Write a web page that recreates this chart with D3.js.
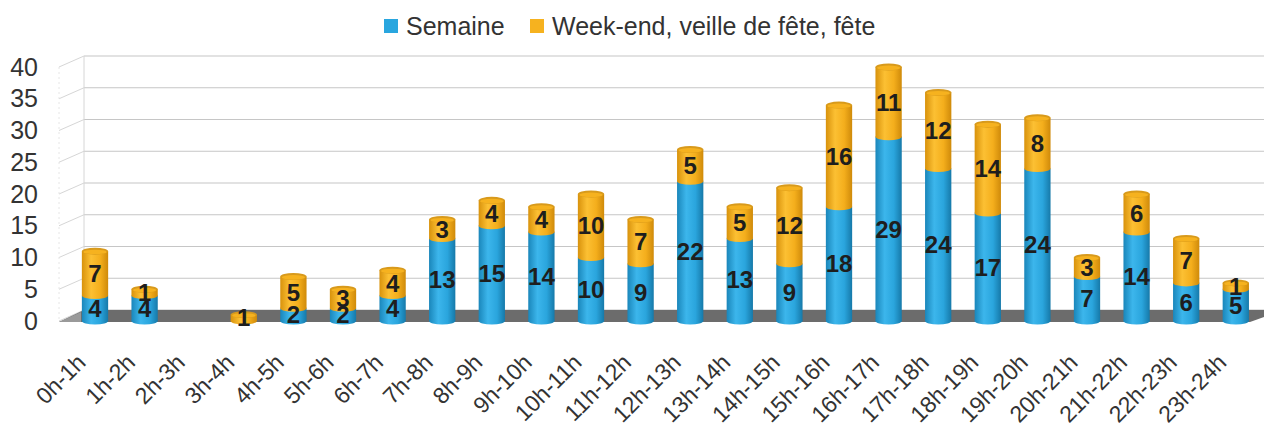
<!DOCTYPE html>
<html>
<head>
<meta charset="utf-8">
<script src="https://cdn.jsdelivr.net/npm/d3@7"></script>
<style>
  body { margin: 0; background: #fff; }
  svg { display: block; font-family: "Liberation Sans", Arial, sans-serif; }
</style>
</head>
<body>
<svg id="chart" width="1264" height="428"></svg>
<script>
// data
var categories = ["0h-1h","1h-2h","2h-3h","3h-4h","4h-5h","5h-6h","6h-7h","7h-8h","8h-9h","9h-10h",
  "10h-11h","11h-12h","12h-13h","13h-14h","14h-15h","15h-16h","16h-17h","17h-18h","18h-19h","19h-20h",
  "20h-21h","21h-22h","22h-23h","23h-24h"];
var semaine = [4,4,0,0,2,2,4,13,15,14,10,9,22,13,9,18,29,24,17,24,7,14,6,5];
var weekend = [7,1,0,1,5,3,4,3,4,4,10,7,5,5,12,16,11,12,14,8,3,6,7,1];
var seriesNames = ["Semaine", "Week-end, veille de fête, fête"];
var yTicks = [0,5,10,15,20,25,30,35,40];

var colors = ["#29a6df", "#f6b21f"];
var shades = [
  ["#1a86ba", "#3cb6ec", "#2aa5dd", "#1679a9"],
  ["#d8920c", "#fcc033", "#f4ae1c", "#cf8a0a"]
];
var capColors = ["#1f93c9", "#d89a1c"];

var svg = d3.select("#chart");
var depthX = 25, depthY = -11;

var y = d3.scaleLinear().domain([0, 40]).range([321, 67]);
var x = d3.scaleBand().domain(categories).range([70.2, 1260.6])
  .paddingInner(0.47).paddingOuter(0.235);

var rows = categories.map(function(c, i) {
  return {cat: c, s0: semaine[i], s1: weekend[i]};
});
var stacked = d3.stack().keys(["s0", "s1"])(rows);

// gradients for the cylinders
var defs = svg.append("defs");
shades.forEach(function(sh, k) {
  var g = defs.append("linearGradient").attr("id", "grad" + k)
    .attr("x1", "0%").attr("x2", "100%").attr("y1", "0%").attr("y2", "0%");
  [0, 0.35, 0.7, 1].forEach(function(o, j) {
    g.append("stop").attr("offset", o).attr("stop-color", sh[j]);
  });
});

// back wall gridlines
var wallLeft = 59 + depthX;
svg.append("g").selectAll("line").data(yTicks).enter().append("line")
  .attr("x1", wallLeft).attr("x2", 1264)
  .attr("y1", function(d){ return y(d) + depthY; })
  .attr("y2", function(d){ return y(d) + depthY; })
  .attr("stroke", "#c6c6c6").attr("stroke-width", 1.2);

// left wall
svg.append("g").selectAll("line").data(yTicks).enter().append("line")
  .attr("x1", 59).attr("x2", wallLeft)
  .attr("y1", function(d){ return y(d); })
  .attr("y2", function(d){ return y(d) + depthY; })
  .attr("stroke", "#d6d6d6").attr("stroke-width", 1);
svg.append("line").attr("x1", wallLeft).attr("x2", wallLeft)
  .attr("y1", y(40) + depthY).attr("y2", y(0) + depthY)
  .attr("stroke", "#d6d6d6");
svg.append("line").attr("x1", 59).attr("x2", 59)
  .attr("y1", y(40)).attr("y2", y(0))
  .attr("stroke", "#e6e6e6").attr("stroke-dasharray", "2,3");

// floor
var y0 = y(0);
svg.append("path")
  .attr("d", "M59," + (y0 + 1) + "L" + wallLeft + "," + (y0 + depthY) +
    "L1264," + (y0 + depthY) + "L1264," + (y0 - 4) + "L1250," + (y0 + 1) + "Z")
  .attr("fill", "#6c6c6c");
svg.append("path")
  .attr("d", "M59," + (y0 + 1) + "L" + (wallLeft - 3) + "," + (y0 + depthY + 2) +
    "L" + (wallLeft - 3) + "," + (y0 + 1) + "Z")
  .attr("fill", "#9a9a9a");

// y axis labels
var yAxis = d3.axisLeft(y).tickValues(yTicks).tickSize(0).tickPadding(8);
var ya = svg.append("g").attr("transform", "translate(46,0)").call(yAxis);
ya.select(".domain").remove();
ya.selectAll("text").attr("font-size", 25).attr("fill", "#333")
  .attr("font-family", "Liberation Sans, Arial, sans-serif");

// cylinders
var bw = x.bandwidth();
var ry = 3.5;
var bars = svg.append("g");
stacked.forEach(function(layer, k) {
  var g = bars.append("g");
  layer.forEach(function(d, i) {
    if (d[1] - d[0] <= 0) return;
    var cx = x(categories[i]) + bw / 2;
    g.append("rect")
      .attr("x", x(categories[i])).attr("width", bw)
      .attr("y", y(d[1])).attr("height", y(d[0]) - y(d[1]))
      .attr("fill", "url(#grad" + k + ")");
    g.append("ellipse")
      .attr("cx", cx).attr("cy", y(d[0])).attr("rx", bw / 2).attr("ry", ry)
      .attr("fill", "url(#grad" + k + ")");
  });
});
// top caps
rows.forEach(function(r, i) {
  var total = r.s0 + r.s1;
  if (total <= 0) return;
  var k = r.s1 > 0 ? 1 : 0;
  var cx = x(r.cat) + bw / 2;
  bars.append("ellipse")
    .attr("cx", cx).attr("cy", y(total)).attr("rx", bw / 2).attr("ry", ry)
    .attr("fill", capColors[k]);
  bars.append("ellipse")
    .attr("cx", cx).attr("cy", y(total) + 0.8).attr("rx", bw / 2 - 1.5).attr("ry", ry - 1.2)
    .attr("fill", colors[k]);
});

// value labels
var labels = svg.append("g").attr("font-size", 24).attr("font-weight", "bold")
  .attr("fill", "#1e1e1e").attr("text-anchor", "middle");
stacked.forEach(function(layer, k) {
  layer.forEach(function(d, i) {
    var v = d[1] - d[0];
    if (v <= 0) return;
    labels.append("text")
      .attr("x", x(categories[i]) + bw / 2)
      .attr("y", (y(d[0]) + y(d[1])) / 2)
      .attr("dy", "0.36em")
      .text(v);
  });
});

// x axis labels
svg.append("g").selectAll("text").data(categories).enter().append("text")
  .attr("transform", function(d){
    return "translate(" + (x(d) + bw / 2 - 8) + ",364) rotate(-45)";
  })
  .attr("text-anchor", "end")
  .attr("font-size", 23).attr("fill", "#333")
  .text(function(d){ return d; });

// legend
var legX = [384, 530];
var legend = svg.append("g");
seriesNames.forEach(function(name, k) {
  legend.append("rect").attr("x", legX[k]).attr("y", 19).attr("width", 14).attr("height", 14)
    .attr("fill", colors[k]);
  legend.append("text").attr("x", legX[k] + 22).attr("y", 35)
    .attr("font-size", 25).attr("fill", "#333").text(name);
});
</script>
</body>
</html>
